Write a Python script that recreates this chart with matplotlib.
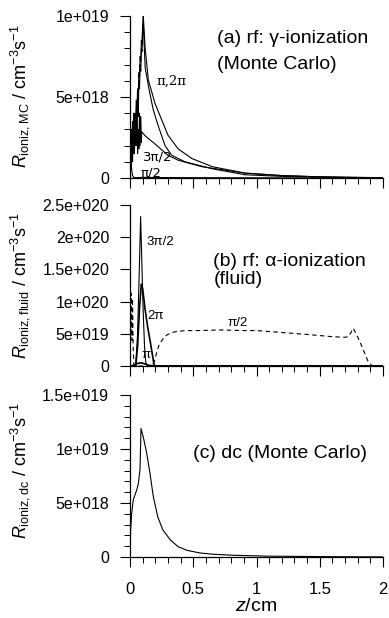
import matplotlib
matplotlib.use("Agg")
import matplotlib.pyplot as plt
from matplotlib.ticker import MultipleLocator, FixedLocator, FixedFormatter

plt.rcParams['font.family'] = ['Liberation Sans', 'DejaVu Sans']
plt.rcParams['mathtext.fontset'] = 'custom'
plt.rcParams['mathtext.rm'] = 'Liberation Sans'
plt.rcParams['mathtext.it'] = 'Liberation Sans:italic'
plt.rcParams['mathtext.bf'] = 'Liberation Sans:bold'

# ---------------- Panel (a): rf gamma-ionization (Monte Carlo), units 1e19 ----------------
za_pi = [0, 0.005, 0.01, 0.015, 0.02, 0.025, 0.03, 0.035, 0.04, 0.045, 0.05, 0.055, 0.06, 0.065,
         0.07, 0.075, 0.08, 0.085, 0.09, 0.095, 0.1, 0.105, 0.12, 0.145, 0.198, 0.25, 0.30, 0.38,
         0.49, 0.65, 0.91, 1.2, 1.5, 1.8, 2.0]
va_pi = [0, 0.08, 0.25, 0.12, 0.35, 0.18, 0.38, 0.22, 0.40, 0.3, 0.48, 0.42, 0.55, 0.5,
         0.65, 0.62, 0.75, 0.72, 0.85, 0.82, 0.95, 1.0, 0.80, 0.605, 0.46, 0.36, 0.265, 0.18,
         0.12, 0.07, 0.03, 0.015, 0.007, 0.003, 0.002]
za_2pi = [0, 0.01, 0.015, 0.02, 0.025, 0.03, 0.035, 0.04, 0.045, 0.05, 0.055, 0.06, 0.065, 0.07,
          0.075, 0.08, 0.085, 0.09, 0.095, 0.1, 0.105, 0.12, 0.15, 0.184, 0.224, 0.277, 0.33,
          0.435, 0.65, 0.91, 1.2, 1.5, 1.8, 2.0]
va_2pi = [0, 0.15, 0.3, 0.1, 0.25, 0.4, 0.15, 0.35, 0.2, 0.45, 0.25, 0.5, 0.38, 0.6,
          0.55, 0.7, 0.66, 0.8, 0.78, 0.92, 0.95, 0.68, 0.55, 0.42, 0.32, 0.20, 0.14,
          0.10, 0.057, 0.02, 0.01, 0.005, 0.002, 0.001]
za_3pi2 = [0, 0.01, 0.02, 0.03, 0.04, 0.05, 0.055, 0.06, 0.065, 0.07, 0.075, 0.08, 0.085, 0.09,
           0.092, 0.12, 0.198, 0.30, 0.38, 0.567, 0.91, 1.2, 1.5, 2.0]
va_3pi2 = [0, 0.1, 0.2, 0.15, 0.25, 0.2, 0.38, 0.15, 0.3, 0.18, 0.4, 0.2, 0.38, 0.22,
           0.286, 0.26, 0.21, 0.14, 0.11, 0.07, 0.03, 0.015, 0.007, 0.002]
za_pi2 = [0, 0.005, 0.01, 0.015, 0.02, 0.03, 0.05, 0.1, 0.2, 0.5, 1.0, 2.0]
va_pi2 = [0.05, 0.12, 0.08, 0.04, 0.015, 0.003, 0.002, 0.004, 0.003, 0.002, 0.001, 0]

# ---------------- Panel (b): rf alpha-ionization (fluid), units 1e20 ----------------
zb_3pi2 = [0, 0.045, 0.06, 0.075, 0.084, 0.095, 0.105, 0.115, 0.125, 0.14, 2.0]
vb_3pi2 = [0, 0, 0.5, 1.6, 2.32, 1.5, 0.8, 0.3, 0.05, 0, 0]
zb_2pi = [0, 0.045, 0.06, 0.075, 0.09, 0.1, 0.12, 0.14, 0.16, 0.175, 0.19, 0.2, 2.0]
vb_2pi = [0, 0, 0.3, 0.9, 1.27, 1.2, 0.87, 0.6, 0.38, 0.2, 0.02, 0, 0]
zb_pi = [0, 0.03, 0.06, 0.09, 0.12, 0.15, 0.2, 2.0]
vb_pi = [0, 0.01, 0.04, 0.05, 0.03, 0.01, 0, 0]
zb_pi2 = [0, 0.005, 0.01, 0.015, 0.02, 0.025, 0.03, 0.04, 0.1, 0.17, 0.19, 0.21, 0.23, 0.26,
          0.29, 0.33, 0.38, 0.45, 0.55, 0.7, 0.9, 1.0, 1.2, 1.4, 1.6, 1.7, 1.73, 1.765, 1.8,
          1.845, 1.88, 1.91, 1.95, 2.0]
vb_pi2 = [0, 0.5, 1.13, 0.4, 1.05, 0.3, 0.02, 0, 0, 0, 0.06, 0.2, 0.33, 0.42,
          0.48, 0.52, 0.54, 0.55, 0.55, 0.56, 0.55, 0.55, 0.52, 0.49, 0.455, 0.445, 0.46, 0.585, 0.45,
          0.25, 0.08, 0.01, 0, 0]

# ---------------- Panel (c): dc (Monte Carlo), units 1e19 ----------------
zc = [0, 0.005, 0.013, 0.026, 0.053, 0.066, 0.079, 0.087, 0.105, 0.13, 0.158, 0.184, 0.22,
      0.26, 0.32, 0.38, 0.45, 0.55, 0.65, 0.82, 1.08, 1.6, 2.0]
vc = [0.03, 0.25, 0.40, 0.53, 0.62, 0.68, 0.81, 1.19, 1.11, 0.975, 0.775, 0.56, 0.37,
      0.25, 0.157, 0.096, 0.062, 0.038, 0.026, 0.016, 0.008, 0.003, 0.001]

x_major = [0, 0.5, 1, 1.5, 2]
x_labels = ["0", "0.5", "1", "1.5", "2"]
ya_ticks = [0, 5e18, 1e19]
ya_labels = ["0", "5e+018", "1e+019"]
yb_ticks = [0, 5e19, 1e20, 1.5e20, 2e20, 2.5e20]
yb_labels = ["0", "5e+019", "1e+020", "1.5e+020", "2e+020", "2.5e+020"]
yc_ticks = [0, 5e18, 1e19, 1.5e19]
yc_labels = ["0", "5e+018", "1e+019", "1.5e+019"]

W, H = 389, 618
fig = plt.figure(figsize=(W / 100, H / 100), dpi=100)

def add_ax(top_px, bot_px):
    left, right = 130, 383
    return fig.add_axes([left / W, 1 - bot_px / H, (right - left) / W, (bot_px - top_px) / H])

axa = add_ax(16, 178)
axb = add_ax(205, 366)
axc = add_ax(395, 557)

TICKFS = 11.5
lw = 0.8

def style(ax, yt, yl, ymax, yminor, show_x):
    ax.set_xlim(0, 2)
    ax.set_ylim(0, ymax)
    for s in ['top', 'right']:
        ax.spines[s].set_visible(False)
    for s in ['left', 'bottom']:
        ax.spines[s].set_linewidth(0.9)
    ax.yaxis.set_major_locator(FixedLocator(yt))
    ax.yaxis.set_major_formatter(FixedFormatter(yl))
    if yminor:
        ax.yaxis.set_minor_locator(MultipleLocator(yminor))
    ax.xaxis.set_major_locator(FixedLocator(x_major))
    ax.xaxis.set_minor_locator(MultipleLocator(0.1))
    if show_x:
        ax.xaxis.set_major_formatter(FixedFormatter(x_labels))
    else:
        ax.set_xticklabels([])
    ax.tick_params(which='major', direction='out', length=7, width=0.8, labelsize=TICKFS)
    ax.tick_params(axis='y', which='major', pad=8)
    ax.tick_params(axis='x', which='major', pad=11, labelsize=12)
    ax.tick_params(which='minor', direction='out', length=4, width=0.7)
    ax.patch.set_alpha(0)

TXT = 14

# panel a
axa.plot(za_pi, [v * 1e19 for v in va_pi], color='black', lw=lw)
axa.plot(za_2pi, [v * 1e19 for v in va_2pi], color='black', lw=lw)
axa.plot(za_3pi2, [v * 1e19 for v in va_3pi2], color='black', lw=lw)
axa.plot(za_pi2, [v * 1e19 for v in va_pi2], color='black', lw=lw)
style(axa, ya_ticks, ya_labels, 1e19, 1e18, False)
axa.text(0.69, 0.86e19, "(a) rf: γ-ionization", fontsize=TXT, va='center', ha='left')
axa.text(0.69, 0.70e19, "(Monte Carlo)", fontsize=TXT, va='center', ha='left')
axa.text(0.21, 0.60e19, "π,2π", fontsize=9.5, family=['DejaVu Serif'], va='center', ha='left')
axa.text(0.105, 0.13e19, "3π/2", fontsize=9.5, family=['DejaVu Sans'], va='center', ha='left')
axa.text(0.08, 0.03e19, "π/2", fontsize=9.5, family=['DejaVu Sans'], va='center', ha='left')

# panel b
axb.plot(zb_3pi2, [v * 1e20 for v in vb_3pi2], color='black', lw=lw)
axb.plot(zb_2pi, [v * 1e20 for v in vb_2pi], color='black', lw=1.2)
axb.plot(zb_pi, [v * 1e20 for v in vb_pi], color='black', lw=1.2)
axb.plot(zb_pi2, [v * 1e20 for v in vb_pi2], color='black', lw=lw, ls=(0, (4, 3)))
style(axb, yb_ticks, yb_labels, 2.5e20, None, False)
axb.text(0.66, 1.62e20, "(b) rf: α-ionization", fontsize=TXT, va='center', ha='left')
axb.text(0.66, 1.34e20, "(fluid)", fontsize=TXT, va='center', ha='left')
axb.text(0.13, 1.93e20, "3π/2", fontsize=9.5, va='center', ha='left')
axb.text(0.14, 0.77e20, "2π", fontsize=9.5, va='center', ha='left')
axb.text(0.09, 0.17e20, "π", fontsize=9.5, va='center', ha='left')
axb.text(0.77, 0.67e20, "π/2", fontsize=9.5, va='center', ha='left')

# panel c
axc.plot(zc, [v * 1e19 for v in vc], color='black', lw=lw)
style(axc, yc_ticks, yc_labels, 1.5e19, 1e18, True)
axc.text(0.5, 0.96e19, "(c) dc (Monte Carlo)", fontsize=TXT, va='center', ha='left')
axc.set_xlabel(r"$z$/cm", fontsize=14, labelpad=1)

ylabels = [r"$R_{\mathrm{ioniz,MC}}$ / cm$^{-3}$s$^{-1}$",
           r"$R_{\mathrm{ioniz,fluid}}$ / cm$^{-3}$s$^{-1}$",
           r"$R_{\mathrm{ioniz,dc}}$ / cm$^{-3}$s$^{-1}$"]
ycent = [96, 285, 470]
for lab, yc_ in zip(ylabels, ycent):
    fig.text(20 / W, 1 - yc_ / H, lab, rotation=90, fontsize=13, ha='center', va='center')

fig.savefig("out.png", dpi=100)
